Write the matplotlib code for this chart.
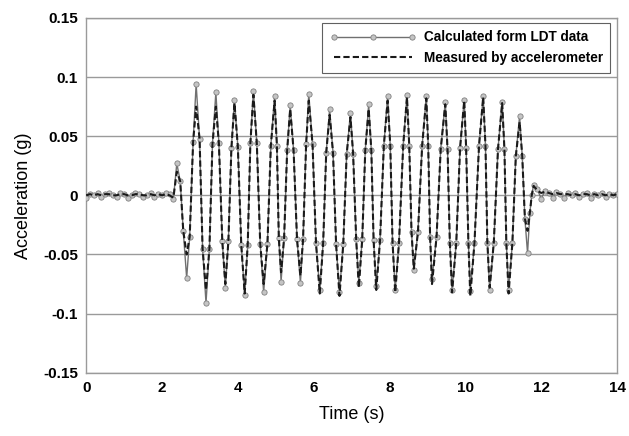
import numpy as np
import matplotlib
matplotlib.use('Agg')
import matplotlib.pyplot as plt

plt.rcParams['font.family'] = ['Liberation Sans', 'DejaVu Sans']

# quiet part before the shaking (sampled every 0.1 s)
pre_t = np.round(np.arange(0.0, 2.25, 0.1), 2)
pre_calc = [-0.002, 0.001, 0.000, 0.002, -0.001, 0.001, 0.002, 0.000, -0.001, 0.002, 0.001, -0.002,
            0.000, 0.002, 0.001, -0.001, 0.000, 0.002, -0.001, 0.001, 0.000, 0.002, 0.001]
pre_meas = [0.000, 0.001, 0.000, 0.001, 0.000, 0.001, 0.001, 0.000, 0.000, 0.001, 0.001, 0.000,
            0.000, 0.001, 0.001, 0.000, 0.000, 0.001, 0.000, 0.001, 0.000, 0.001, 0.000]

# shaking part: peaks and troughs
ext_t = [2.30, 2.39, 2.65, 2.90, 3.16, 3.42, 3.67, 3.91, 4.18, 4.41, 4.68, 4.97, 5.14, 5.38,
         5.65, 5.87, 6.16, 6.42, 6.68, 6.97, 7.19, 7.45, 7.65, 7.95, 8.15, 8.46, 8.64, 8.97,
         9.12, 9.47, 9.65, 9.97, 10.13, 10.47, 10.64, 10.97, 11.14, 11.43, 11.64, 11.80]
ext_calc = [-0.003, 0.027, -0.070, 0.094, -0.091, 0.087, -0.078, 0.081, -0.084, 0.088, -0.082,
            0.084, -0.073, 0.076, -0.074, 0.086, -0.080, 0.073, -0.082, 0.070, -0.074, 0.077,
            -0.077, 0.084, -0.080, 0.085, -0.063, 0.084, -0.071, 0.079, -0.080, 0.081, -0.081,
            0.084, -0.080, 0.079, -0.080, 0.067, -0.049, 0.009]
ext_meas = [-0.002, 0.020, -0.050, 0.075, -0.080, 0.075, -0.075, 0.078, -0.083, 0.085, -0.075,
            0.080, -0.065, 0.073, -0.068, 0.080, -0.083, 0.068, -0.085, 0.066, -0.078, 0.073,
            -0.080, 0.080, -0.082, 0.083, -0.062, 0.082, -0.075, 0.077, -0.082, 0.080, -0.085,
            0.083, -0.078, 0.078, -0.083, 0.062, -0.030, 0.008]

# points on the flanks of each swing
flank_t = [2.48, 2.56, 2.73, 2.82, 2.99, 3.07, 3.25, 3.33, 3.50, 3.59, 3.75, 3.83, 4.00, 4.09,
           4.26, 4.33, 4.50, 4.59, 4.78, 4.87, 5.03, 5.08, 5.22, 5.30, 5.47, 5.56, 5.72, 5.80,
           5.97, 6.06, 6.25, 6.33, 6.51, 6.59, 6.78, 6.87, 7.04, 7.12, 7.28, 7.36, 7.52, 7.58,
           7.75, 7.85, 8.02, 8.08, 8.25, 8.36, 8.52, 8.58, 8.75, 8.86, 9.02, 9.07, 9.24, 9.35,
           9.53, 9.59, 9.76, 9.86, 10.02, 10.08, 10.24, 10.36, 10.53, 10.58, 10.75, 10.86,
           11.03, 11.08, 11.24, 11.33, 11.50, 11.57, 11.70, 11.75]
flank_v = [0.012, -0.030, -0.035, 0.045, 0.048, -0.045, -0.045, 0.043, 0.044, -0.039, -0.039,
           0.040, 0.041, -0.042, -0.042, 0.044, 0.044, -0.041, -0.041, 0.042, 0.042, -0.036,
           -0.036, 0.038, 0.038, -0.037, -0.037, 0.043, 0.043, -0.040, -0.040, 0.036, 0.036,
           -0.041, -0.041, 0.035, 0.035, -0.037, -0.037, 0.038, 0.038, -0.038, -0.038, 0.042,
           0.042, -0.040, -0.040, 0.042, 0.042, -0.031, -0.031, 0.042, 0.042, -0.035, -0.035,
           0.039, 0.039, -0.040, -0.040, 0.040, 0.040, -0.040, -0.040, 0.042, 0.042, -0.040,
           -0.040, 0.039, 0.039, -0.040, -0.040, 0.033, 0.033, -0.020, -0.015, 0.000]

# quiet part after the shaking
post_t = np.round(np.arange(11.9, 14.05, 0.1), 2)
post_calc = [0.005, -0.003, 0.004, 0.002, -0.002, 0.003, 0.001, -0.002, 0.002, 0.000, 0.002, -0.001,
             0.001, 0.002, -0.002, 0.001, 0.000, 0.002, -0.001, 0.001, 0.000, 0.001]
post_meas = [0.004, 0.002, 0.003, 0.002, 0.001, 0.002, 0.001, 0.001, 0.001, 0.000, 0.001, 0.000,
             0.001, 0.001, 0.000, 0.001, 0.000, 0.001, 0.000, 0.001, 0.000, 0.001]

t = np.concatenate([pre_t, ext_t, flank_t, post_t])
calc = np.concatenate([pre_calc, ext_calc, flank_v, post_calc])
meas = np.concatenate([pre_meas, ext_meas, flank_v, post_meas])
order = np.argsort(t)
t, calc, meas = t[order], calc[order], meas[order]

y_ticks = [-0.15, -0.1, -0.05, 0, 0.05, 0.1, 0.15]
y_labels = ['-0.15', '-0.1', '-0.05', '0', '0.05', '0.1', '0.15']

fig = plt.figure(figsize=(6.29, 4.36), dpi=100)
ax = fig.add_axes([0.137, 0.145, 0.844, 0.814])

ax.plot(t, calc, color='#707070', lw=1.0, marker='o', ms=3.8, mfc='#c4c4c4', mec='#808080',
        mew=0.6, label='Calculated form LDT data', zorder=3)
ax.plot(t, meas, color='#1a1a1a', lw=1.5, ls=(0, (3, 1.5)), label='Measured by accelerometer', zorder=4)

ax.set_xlim(0, 14)
ax.set_ylim(-0.15, 0.15)
ax.set_xticks(range(0, 15, 2))
ax.set_yticks(y_ticks)
ax.set_yticklabels(y_labels)
ax.yaxis.grid(True, color='#9a9a9a', lw=1.0)
ax.set_axisbelow(True)
for s in ax.spines.values():
    s.set_color('#9a9a9a')
    s.set_linewidth(1.0)
ax.tick_params(length=0, labelsize=11, pad=6)
for lab in ax.get_xticklabels() + ax.get_yticklabels():
    lab.set_fontweight('bold')
ax.set_xlabel('Time (s)', fontsize=13, labelpad=8)
ax.set_ylabel('Acceleration (g)', fontsize=13, labelpad=8)

leg = ax.legend(loc='upper right', bbox_to_anchor=(0.99, 0.99), borderaxespad=0.1, numpoints=3,
                fancybox=False, framealpha=1, edgecolor='#606060', prop={'weight': 'bold', 'size': 9.8},
                handlelength=6.3, handletextpad=0.6, borderpad=0.55, labelspacing=0.5)
leg.get_frame().set_linewidth(0.8)

fig.savefig('out.png', dpi=100)
